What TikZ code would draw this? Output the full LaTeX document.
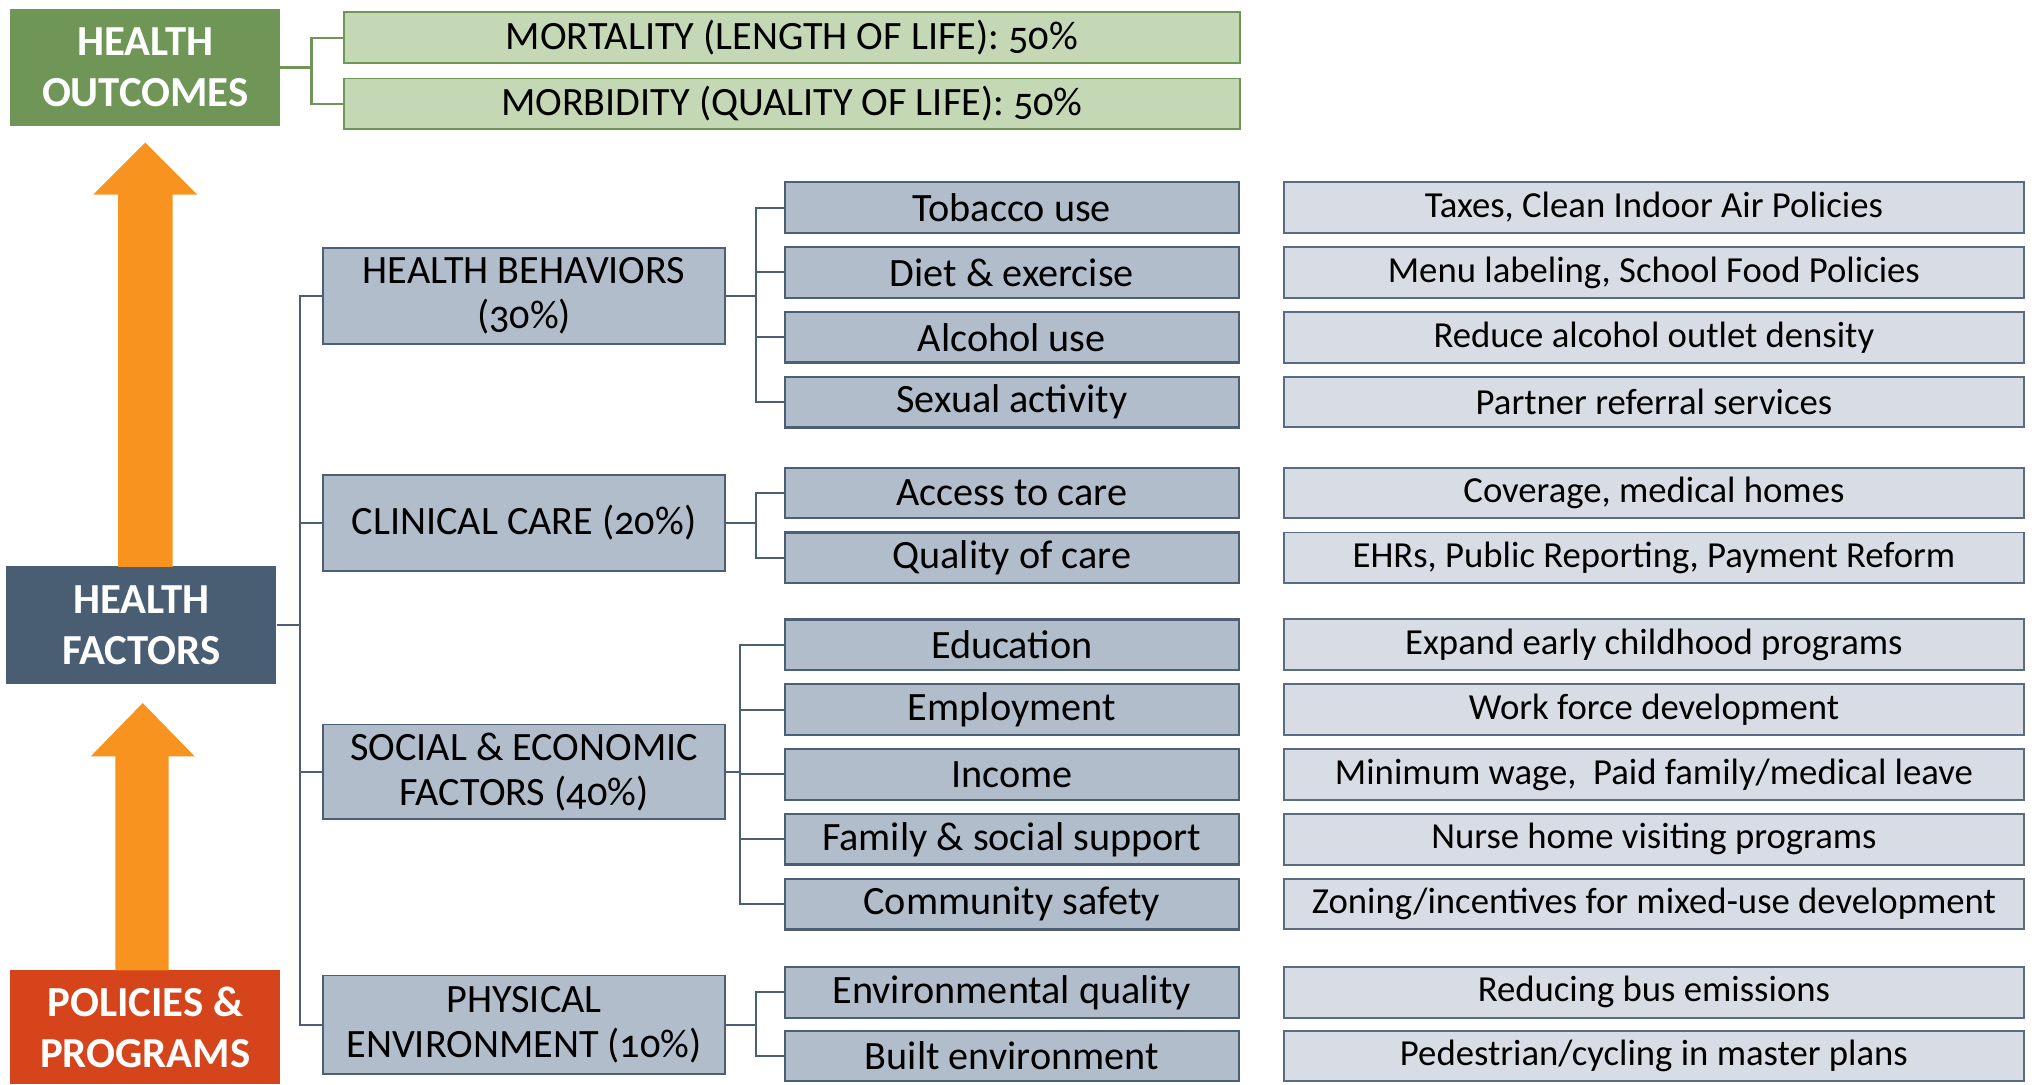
\documentclass[tikz,border=0pt]{standalone}
\usepackage{fontspec}
\setmainfont{Carlito}[Numbers=OldStyle]
\definecolor{hogreen}{HTML}{6F9656}
\definecolor{ltgreen}{HTML}{C5D8B6}
\definecolor{slatefill}{HTML}{B2BDCC}
\definecolor{slateline}{HTML}{4D5F74}
\definecolor{rightfill}{HTML}{D8DDE5}
\definecolor{rightline}{HTML}{5B6C80}
\definecolor{hfdark}{HTML}{4A5E73}
\definecolor{arroworange}{HTML}{F7931E}
\definecolor{policyred}{HTML}{D5441A}
\begin{document}
\begin{tikzpicture}[x=1pt,y=-1pt,
  bigbox/.style={rectangle, inner sep=0pt, minimum width=208pt, align=center,
    text=white, font=\fontsize{33}{39}\selectfont\bfseries},
  outbox/.style={rectangle, draw=hogreen, line width=1.5pt, fill=ltgreen, inner sep=0pt,
    minimum width=691pt, minimum height=39pt, font=\fontsize{31}{34}\selectfont},
  catbox/.style={rectangle, draw=slateline, line width=1.5pt, fill=slatefill, inner sep=0pt,
    minimum width=310pt, align=center, font=\fontsize{31}{35}\selectfont},
  subbox/.style={rectangle, draw=slateline, line width=1.7pt, fill=slatefill, inner sep=0pt,
    minimum width=350pt, minimum height=39pt, font=\fontsize{31}{34}\selectfont},
  polbox/.style={rectangle, draw=rightline, line width=1.5pt, fill=rightfill, inner sep=0pt,
    minimum width=570pt, minimum height=39pt, font=\fontsize{28.3}{32}\selectfont},
  gconn/.style={draw=hogreen, line width=1.7pt},
  bconn/.style={draw=slateline, line width=1.6pt},
  blockarrow/.style={fill=arroworange}
]
\useasboundingbox (0,0) rectangle (1568,836);

% left column
\node[bigbox, fill=hogreen, minimum height=90pt] (ho) at (112,52) {HEALTH\\OUTCOMES};
\node[bigbox, fill=hfdark, minimum height=91pt] (hf) at (109,482) {HEALTH\\FACTORS};
\node[bigbox, fill=policyred, minimum height=88pt] (pp) at (112,792) {POLICIES \&\\PROGRAMS};

% block arrows
\fill[blockarrow] (91,437) -- (91,150) -- (72,150) -- (112,110) -- (152,150) -- (133,150) -- (133,437) -- cycle;
\fill[blockarrow] (89,748) -- (89,583) -- (70,583) -- (110,542) -- (150,583) -- (130,583) -- (130,748) -- cycle;

% outcomes
\node[outbox] (mort) at (610.5,29) {MORTALITY (LENGTH OF LIFE): 50\%};
\node[outbox] (morb) at (610.5,80) {MORBIDITY (QUALITY OF LIFE): 50\%};
\draw[gconn] (ho.east) -- ++(24,0) |- (mort.west);
\draw[gconn] (ho.east) ++(24,0) |- (morb.west);

% categories
\node[catbox, minimum height=74pt] (hb) at (404,228) {HEALTH BEHAVIORS\\(30\%)};
\node[catbox, minimum height=74pt] (cc) at (404,403) {CLINICAL CARE (20\%)};
\node[catbox, minimum height=73pt] (se) at (404,595) {SOCIAL \& ECONOMIC\\FACTORS (40\%)};
\node[catbox, minimum height=76pt] (pe) at (404,790) {PHYSICAL\\ENVIRONMENT (10\%)};

\draw[bconn] (hf.east) -- ++(18,0) |- (hb.west);
\draw[bconn] (hf.east) ++(18,0) |- (cc.west);
\draw[bconn] (hf.east) ++(18,0) |- (se.west);
\draw[bconn] (hf.east) ++(18,0) |- (pe.west);

% sub items
\node[subbox] (s1) at (780,160) {Tobacco use};
\node[subbox] (s2) at (780,210) {Diet \& exercise};
\node[subbox] (s3) at (780,260) {Alcohol use};
\node[subbox] (s4) at (780,310) {Sexual activity};
\node[subbox] (s5) at (780,380) {Access to care};
\node[subbox] (s6) at (780,430) {Quality of care};
\node[subbox] (s7) at (780,497) {Education};
\node[subbox] (s8) at (780,547) {Employment};
\node[subbox] (s9) at (780,597) {Income};
\node[subbox] (s10) at (780,647) {Family \& social support};
\node[subbox] (s11) at (780,697) {Community safety};
\node[subbox] (s12) at (780,765) {Environmental quality};
\node[subbox] (s13) at (780,814) {Built environment};

\foreach \s in {s1,s2,s3,s4}{\draw[bconn] (hb.east) ++(23,0) |- (\s.west);}
\draw[bconn] (hb.east) -- ++(23,0);
\foreach \s in {s5,s6}{\draw[bconn] (cc.east) ++(23,0) |- (\s.west);}
\draw[bconn] (cc.east) -- ++(23,0);
\foreach \s in {s7,s8,s9,s10,s11}{\draw[bconn] (se.east) ++(11,0) |- (\s.west);}
\draw[bconn] (se.east) -- ++(11,0);
\foreach \s in {s12,s13}{\draw[bconn] (pe.east) ++(23,0) |- (\s.west);}
\draw[bconn] (pe.east) -- ++(23,0);

% policies
\node[polbox] (p1) at (1275,160) {Taxes, Clean Indoor Air Policies};
\node[polbox] (p2) at (1275,210) {Menu labeling, School Food Policies};
\node[polbox] (p3) at (1275,260) {Reduce alcohol outlet density};
\node[polbox] (p4) at (1275,310) {Partner referral services};
\node[polbox] (p5) at (1275,380) {Coverage, medical homes};
\node[polbox] (p6) at (1275,430) {EHRs, Public Reporting, Payment Reform};
\node[polbox] (p7) at (1275,497) {Expand early childhood programs};
\node[polbox] (p8) at (1275,547) {Work force development};
\node[polbox] (p9) at (1275,597) {Minimum wage,\ \ Paid family/medical leave};
\node[polbox] (p10) at (1275,647) {Nurse home visiting programs};
\node[polbox] (p11) at (1275,697) {Zoning/incentives for mixed-use development};
\node[polbox] (p12) at (1275,765) {Reducing bus emissions};
\node[polbox] (p13) at (1275,814) {Pedestrian/cycling in master plans};
\end{tikzpicture}
\end{document}
